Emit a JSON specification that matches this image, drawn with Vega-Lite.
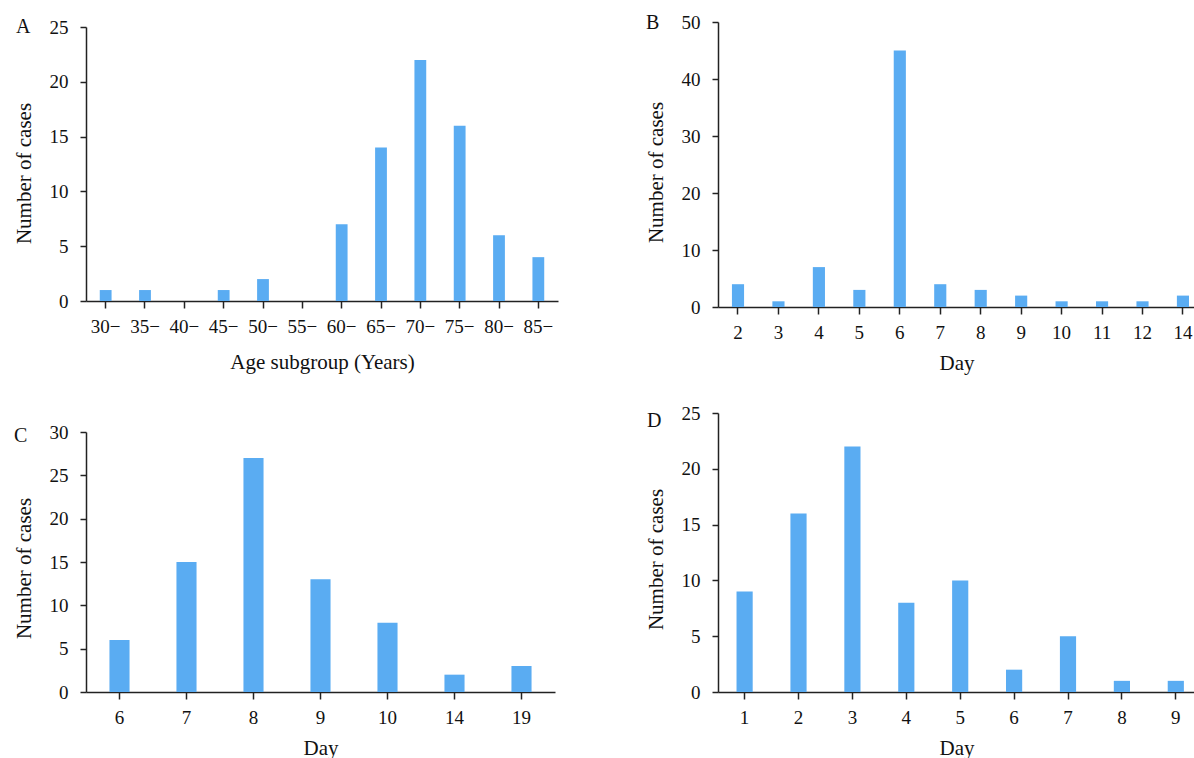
{
  "$schema": "https://vega.github.io/schema/vega-lite/v6.json",
  "padding": {"left": 13, "top": 13, "right": 0, "bottom": 0},
  "background": "white",
  "config": {
    "font": "Liberation Serif",
    "view": {"stroke": null},
    "axis": {
      "labelFont": "Liberation Serif", "titleFont": "Liberation Serif",
      "labelFontSize": 19, "titleFontSize": 21, "titleFontWeight": "normal",
      "labelColor": "#111", "titleColor": "#111",
      "domainColor": "#222", "tickColor": "#222", "domainWidth": 1.5, "tickWidth": 1.5,
      "grid": false
    },
    "axisX": {"tickSize": 7, "labelPadding": 9, "labelAngle": 0, "titlePadding": 10},
    "axisY": {"tickSize": 6, "labelPadding": 12, "titlePadding": 15},
    "title": {"font": "Liberation Serif", "fontSize": 20, "fontWeight": "normal", "anchor": "start", "frame": "group", "color": "#111", "offset": 0, "baseline": "alphabetic"},
    "bar": {"color": "#5aacf2"}
  },
  "datasets": {
    "age": [
      {"group": "30−", "cases": 1}, {"group": "35−", "cases": 1}, {"group": "40−", "cases": 0},
      {"group": "45−", "cases": 1}, {"group": "50−", "cases": 2}, {"group": "55−", "cases": 0},
      {"group": "60−", "cases": 7}, {"group": "65−", "cases": 14}, {"group": "70−", "cases": 22},
      {"group": "75−", "cases": 16}, {"group": "80−", "cases": 6}, {"group": "85−", "cases": 4}
    ],
    "b": [
      {"day": 2, "cases": 4}, {"day": 3, "cases": 1}, {"day": 4, "cases": 7}, {"day": 5, "cases": 3},
      {"day": 6, "cases": 45}, {"day": 7, "cases": 4}, {"day": 8, "cases": 3}, {"day": 9, "cases": 2},
      {"day": 10, "cases": 1}, {"day": 11, "cases": 1}, {"day": 12, "cases": 1}, {"day": 14, "cases": 2}
    ],
    "c": [
      {"day": 6, "cases": 6}, {"day": 7, "cases": 15}, {"day": 8, "cases": 27}, {"day": 9, "cases": 13},
      {"day": 10, "cases": 8}, {"day": 14, "cases": 2}, {"day": 19, "cases": 3}
    ],
    "d": [
      {"day": 1, "cases": 9}, {"day": 2, "cases": 16}, {"day": 3, "cases": 22}, {"day": 4, "cases": 8},
      {"day": 5, "cases": 10}, {"day": 6, "cases": 2}, {"day": 7, "cases": 5}, {"day": 8, "cases": 1},
      {"day": 9, "cases": 1}
    ]
  },
  "columns": 2,
  "align": "each",
  "bounds": "flush",
  "spacing": {"row": 106, "column": 160},
  "concat": [
    {
      "title": {"text": "A", "dx": -70, "dy": 23},
      "data": {"name": "age"},
      "width": 472, "height": 279,
      "mark": "bar",
      "encoding": {
        "x": {"field": "group", "type": "nominal", "sort": null,
              "scale": {"paddingInner": 0.7, "paddingOuter": 0.35},
              "axis": {"title": "Age subgroup (Years)", "titlePadding": 15}},
        "y": {"field": "cases", "type": "quantitative",
              "scale": {"domain": [0, 25], "range": [279, 5]},
              "axis": {"title": "Number of cases", "values": [0, 5, 10, 15, 20, 25], "titleY": 151}}
      }
    },
    {
      "title": {"text": "B", "dx": -72, "dy": 24},
      "data": {"name": "b"},
      "width": 477, "height": 285,
      "mark": "bar",
      "encoding": {
        "x": {"field": "day", "type": "ordinal",
              "scale": {"paddingInner": 0.7, "paddingOuter": 0.246, "align": 0.7},
              "axis": {"title": "Day"}},
        "y": {"field": "cases", "type": "quantitative",
              "scale": {"domain": [0, 50]},
              "axis": {"title": "Number of cases", "values": [0, 10, 20, 30, 40, 50], "titleY": 150}}
      }
    },
    {
      "title": {"text": "C", "dx": -72, "dy": 37},
      "data": {"name": "c"},
      "width": 469, "height": 279,
      "mark": "bar",
      "encoding": {
        "x": {"field": "day", "type": "ordinal",
              "scale": {"paddingInner": 0.7, "paddingOuter": 0.35},
              "axis": {"title": "Day"}},
        "y": {"field": "cases", "type": "quantitative",
              "scale": {"domain": [0, 30], "range": [279, 19]},
              "axis": {"title": "Number of cases", "values": [0, 5, 10, 15, 20, 25, 30], "titleY": 155}}
      }
    },
    {
      "title": {"text": "D", "dx": -71, "dy": 31},
      "data": {"name": "d"},
      "width": 477, "height": 279,
      "mark": "bar",
      "encoding": {
        "x": {"field": "day", "type": "ordinal",
              "scale": {"paddingInner": 0.7, "paddingOuter": 0.275, "align": 0.625},
              "axis": {"title": "Day"}},
        "y": {"field": "cases", "type": "quantitative",
              "scale": {"domain": [0, 25]},
              "axis": {"title": "Number of cases", "values": [0, 5, 10, 15, 20, 25], "titleY": 146}}
      }
    }
  ]
}
